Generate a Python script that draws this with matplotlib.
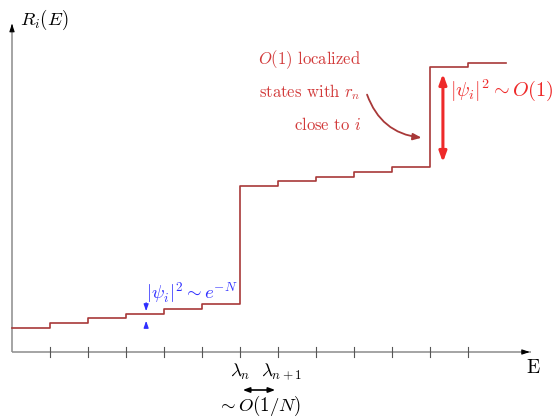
import matplotlib
matplotlib.use("Agg")
import matplotlib.pyplot as plt

plt.rcParams['mathtext.fontset'] = 'cm'
plt.rcParams['font.family'] = ['cmr10', 'DejaVu Serif']

# staircase R_i(E): one level per interval between eigenvalues
edges = [0, 1, 2, 3, 4, 5, 6, 7, 8, 9, 10, 11, 12, 13]
levels = [0.24, 0.29, 0.34, 0.38, 0.43, 0.48, 1.66, 1.71, 1.75, 1.80, 1.85, 2.85, 2.89]
tick_pos = [1, 2, 3, 4, 5, 6, 7, 8, 9, 10, 11, 12]
n_idx = 6  # position of lambda_n

stair_col = '#a83838'
note_col = '#d23a3a'
arrow_col = '#ee2a2a'
blue = '#2f2fff'
axis_col = '#8c8c8c'

fig = plt.figure(figsize=(5.54, 4.17), dpi=100)
ax = fig.add_axes([0, 0, 1, 1])
ax.set_xlim(-12 / 38, 542 / 38)
ax.set_ylim(-0.65, 3.52)
ax.axis('off')

# axes with arrow heads
x_end, y_end = 13.7, 3.31
ax.plot([0, x_end - 0.05], [0, 0], color=axis_col, lw=1.1, solid_capstyle='butt')
ax.plot([0, 0], [0, y_end - 0.03], color=axis_col, lw=1.1, solid_capstyle='butt')
ax.annotate('', xy=(x_end, 0), xytext=(x_end - 0.25, 0),
            arrowprops=dict(arrowstyle='-|>,head_length=0.45,head_width=0.15', color='k', lw=0.8))
ax.annotate('', xy=(0, y_end), xytext=(0, y_end - 0.1),
            arrowprops=dict(arrowstyle='-|>,head_length=0.45,head_width=0.15', color='k', lw=0.8))
for t in tick_pos:
    ax.plot([t, t], [-0.05, 0.05], color='#555555', lw=0.8)

ax.text(x_end, -0.16, 'E', fontsize=14, ha='center', va='center')
ax.text(0.2, 3.32, r'$R_i(E)$', fontsize=13.5, ha='left', va='center')

# the staircase
ax.step(edges, levels + [levels[-1]], where='post', color=stair_col, lw=1.2)

# eigenvalue labels and spacing
ax.text(n_idx, -0.2, r'$\lambda_n$', fontsize=13.5, ha='center', va='center')
ax.text(n_idx + 1.1, -0.2, r'$\lambda_{n+1}$', fontsize=13.5, ha='center', va='center')
ax.annotate('', xy=(n_idx, -0.38), xytext=(n_idx + 1, -0.38),
            arrowprops=dict(arrowstyle='<|-|>,head_length=0.4,head_width=0.15', color='k', lw=1.2))
ax.text(n_idx + 0.5, -0.535, r'$\sim O(1/N)$', fontsize=13.5, ha='center', va='center')

# small steps
bx = 3.53
ax.annotate('', xy=(bx, levels[3]), xytext=(bx, 0.52),
            arrowprops=dict(arrowstyle='-|>,head_length=0.4,head_width=0.14', color=blue, lw=0.9))
ax.annotate('', xy=(bx, levels[2]), xytext=(bx, 0.22),
            arrowprops=dict(arrowstyle='-|>,head_length=0.4,head_width=0.14', color=blue, lw=0.9))
ax.text(bx, 0.595, r'$|\psi_i|^2 \sim e^{-N}$', fontsize=13.5, color=blue, ha='left', va='center')

# large step
rx = 11.34
ax.annotate('', xy=(rx, 2.81), xytext=(rx, 1.87),
            arrowprops=dict(arrowstyle='<|-|>,head_length=0.6,head_width=0.22', color=arrow_col, lw=2.2))
ax.text(11.53, 2.62, r'$|\psi_i|^2 \sim O(1)$', fontsize=14.5, color=arrow_col, ha='left', va='center')

ax.text(9.18, 2.92, r'$O(1)$ localized', fontsize=12, color=note_col, ha='right', va='center')
ax.text(9.18, 2.595, r'states with $r_n$', fontsize=12, color=note_col, ha='right', va='center')
ax.text(9.18, 2.27, r'close to $i$', fontsize=12, color=note_col, ha='right', va='center')
ax.annotate('', xy=(10.85, 2.14), xytext=(9.32, 2.6),
            arrowprops=dict(arrowstyle='-|>,head_length=0.5,head_width=0.2', color=stair_col, lw=1.3,
                            connectionstyle='arc3,rad=0.33'))

fig.savefig('out.png', dpi=100)
